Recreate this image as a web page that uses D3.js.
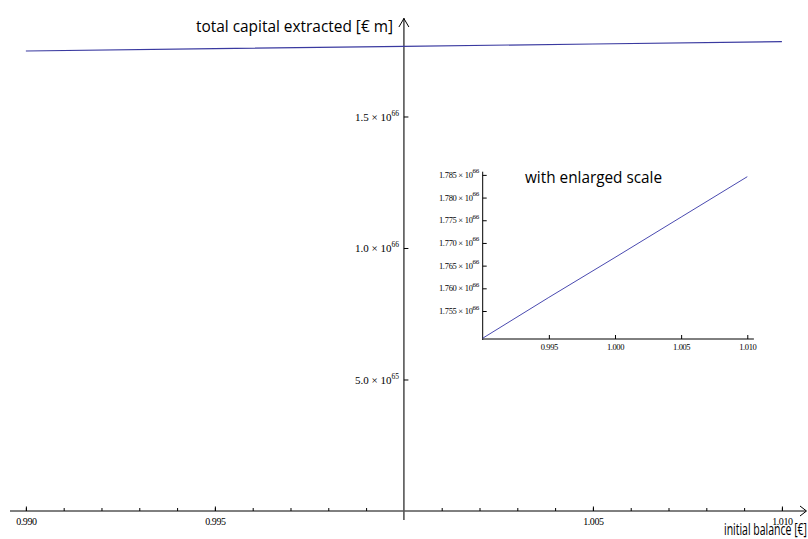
<!DOCTYPE html>
<html>
<head>
<meta charset="utf-8">
<script src="https://cdn.jsdelivr.net/npm/d3@7"></script>
<style>
  body { margin: 0; background: #fff; }
  svg { display: block; }
  .tk text { font-family: "Liberation Serif", serif; fill: #000; }
  .lbl { font-family: "Open Sans", sans-serif; fill: #000; }
</style>
</head>
<body>
<script>
// data (capital in units of 10^66 euro)
var balance = [0.990, 0.995, 1.000, 1.005, 1.010];
var capital = [1.7490, 1.7580, 1.7668, 1.7757, 1.7846];

// tick labels
var xMainTicks = [0.990, 0.995, 1.005, 1.010];
var yMainTicks = [0.5, 1.0, 1.5];
var yMainMant  = ["5.0", "1.0", "1.5"];
var yMainExp   = ["65", "66", "66"];
var xInsetTicks = [0.995, 1.000, 1.005, 1.010];
var yInsetTicks = [1.755, 1.760, 1.765, 1.770, 1.775, 1.780, 1.785];

var width = 808, height = 539;

var svg = d3.select("body").append("svg")
    .attr("width", width)
    .attr("height", height);

// ---- main plot ----
var x = d3.scaleLinear().domain([0.98958, 1.01069]).range([10, 808]);
var y = d3.scaleLinear().domain([0, 1.8745]).range([511, 18]);
var fmt3 = d3.format(".3f");

// x axis: minor + major ticks pointing up
var gx = svg.append("g").attr("class", "tk").attr("transform", "translate(0," + y(0) + ")");
gx.call(d3.axisBottom(x)
    .tickValues(d3.range(0.990, 1.0105, 0.001).filter(function(v) { return Math.abs(v - 1) > 1e-6; }))
    .tickSize(-3).tickFormat(""));
gx.call(function(g) { g.select(".domain").remove(); });
var gx2 = svg.append("g").attr("class", "tk").attr("transform", "translate(0," + y(0) + ")");
gx2.call(d3.axisBottom(x).tickValues(xMainTicks).tickSize(-4.5).tickPadding(7).tickFormat(fmt3));
gx2.select(".domain").remove();
gx2.selectAll("text").attr("font-size", 10).attr("letter-spacing", -0.4);
svg.selectAll(".tk line").attr("stroke", "#000");

svg.append("line")
    .attr("x1", 10).attr("x2", 806)
    .attr("y1", y(0)).attr("y2", y(0))
    .attr("stroke", "#000").attr("stroke-width", 1);
svg.append("path")
    .attr("d", "M800,506 L806.5,511 L800,516")
    .attr("fill", "none").attr("stroke", "#000").attr("stroke-width", 1);

// y axis
var yx = x(1.000);
svg.append("line")
    .attr("x1", yx).attr("x2", yx)
    .attr("y1", 18).attr("y2", 520)
    .attr("stroke", "#555").attr("stroke-width", 1.6);
svg.append("path")
    .attr("d", "M" + (yx - 5) + ",27 L" + yx + ",18.5 L" + (yx + 5) + ",27")
    .attr("fill", "none").attr("stroke", "#000").attr("stroke-width", 1);

var gy = svg.append("g").attr("class", "tk").attr("transform", "translate(" + yx + ",0)");
gy.call(d3.axisRight(y)
    .tickValues(d3.range(1, 19).map(function(i) { return i / 10; }).filter(function(v) { return Math.abs(v * 2 - Math.round(v * 2)) > 1e-6; }))
    .tickSize(3).tickFormat(""));
gy.call(d3.axisRight(y).tickValues(yMainTicks).tickSize(4.5).tickFormat(""));
gy.selectAll(".domain").remove();
gy.selectAll("line").attr("stroke", "#000");

var yl = svg.append("g").attr("class", "tk").selectAll("text")
    .data(yMainTicks)
  .enter().append("text")
    .attr("x", 399)
    .attr("y", function(d) { return y(d) + 4.5; })
    .attr("text-anchor", "end")
    .attr("font-size", 11);
yl.append("tspan").text(function(d, i) { return yMainMant[i] + " \u00d7 10"; });
yl.append("tspan").attr("dy", -5).attr("font-size", 7.5).text(function(d, i) { return yMainExp[i]; });

// data line
var line = d3.line()
    .x(function(d, i) { return x(balance[i]); })
    .y(function(d) { return y(d); });
svg.append("path")
    .datum(capital)
    .attr("d", line)
    .attr("fill", "none")
    .attr("stroke", "#3a3aa0")
    .attr("stroke-width", 1.2);

// axis titles
svg.append("text").attr("class", "lbl")
    .attr("x", 196).attr("y", 32)
    .attr("font-size", 16)
    .attr("textLength", 197).attr("lengthAdjust", "spacingAndGlyphs")
    .text("total capital extracted [\u20ac m]");
svg.append("text").attr("class", "lbl")
    .attr("x", 724).attr("y", 535)
    .attr("font-size", 16)
    .attr("textLength", 83).attr("lengthAdjust", "spacingAndGlyphs")
    .text("initial balance [\u20ac]");

// ---- inset with enlarged scale ----
var xi = d3.scaleLinear().domain([0.990, 1.0105]).range([482.7, 753.9]);
var yi = d3.scaleLinear().domain([1.74883, 1.7857]).range([339, 171.7]);
var fmtI = d3.format(".3f");

var ix = svg.append("g").attr("class", "tk").attr("transform", "translate(0," + yi.range()[0] + ")");
ix.call(d3.axisBottom(xi).tickValues(d3.range(0.991, 1.0105, 0.001)).tickSize(-2.5).tickFormat(""));
ix.call(d3.axisBottom(xi).tickValues(xInsetTicks).tickSize(-4).tickPadding(5).tickFormat(fmtI));
ix.selectAll(".domain").remove();
ix.selectAll("text").attr("font-size", 8.5).attr("letter-spacing", -0.4);
ix.selectAll("line").attr("stroke", "#000");

var iy = svg.append("g").attr("class", "tk").attr("transform", "translate(" + xi.range()[0] + ",0)");
iy.call(d3.axisRight(yi).tickValues(d3.range(1749, 1786).map(function(v) { return v / 1000; })).tickSize(2).tickFormat(""));
iy.call(d3.axisRight(yi).tickValues(yInsetTicks).tickSize(4).tickFormat(""));
iy.selectAll(".domain").remove();
iy.selectAll("line").attr("stroke", "#000");

svg.append("line")
    .attr("x1", xi.range()[0]).attr("x2", xi.range()[1])
    .attr("y1", yi.range()[0]).attr("y2", yi.range()[0])
    .attr("stroke", "#000");
svg.append("line")
    .attr("x1", xi.range()[0]).attr("x2", xi.range()[0])
    .attr("y1", yi.range()[1]).attr("y2", yi.range()[0] + 1)
    .attr("stroke", "#000");

var il = svg.append("g").attr("class", "tk").selectAll("text")
    .data(yInsetTicks)
  .enter().append("text")
    .attr("x", 479)
    .attr("y", function(d) { return yi(d) + 3; })
    .attr("text-anchor", "end")
    .attr("font-size", 8.5)
    .attr("letter-spacing", -0.3);
il.append("tspan").text(function(d) { return fmtI(d) + "  \u00d7 10"; });
il.append("tspan").attr("dy", -4.5).attr("font-size", 7).text("66");

svg.append("path")
    .datum(capital)
    .attr("d", d3.line()
        .x(function(d, i) { return xi(balance[i]); })
        .y(function(d) { return yi(d); }))
    .attr("fill", "none")
    .attr("stroke", "#4a4ab0")
    .attr("stroke-width", 1);

svg.append("text").attr("class", "lbl")
    .attr("x", 525).attr("y", 183)
    .attr("font-size", 16)
    .attr("textLength", 137).attr("lengthAdjust", "spacingAndGlyphs")
    .text("with enlarged scale");
</script>
</body>
</html>
